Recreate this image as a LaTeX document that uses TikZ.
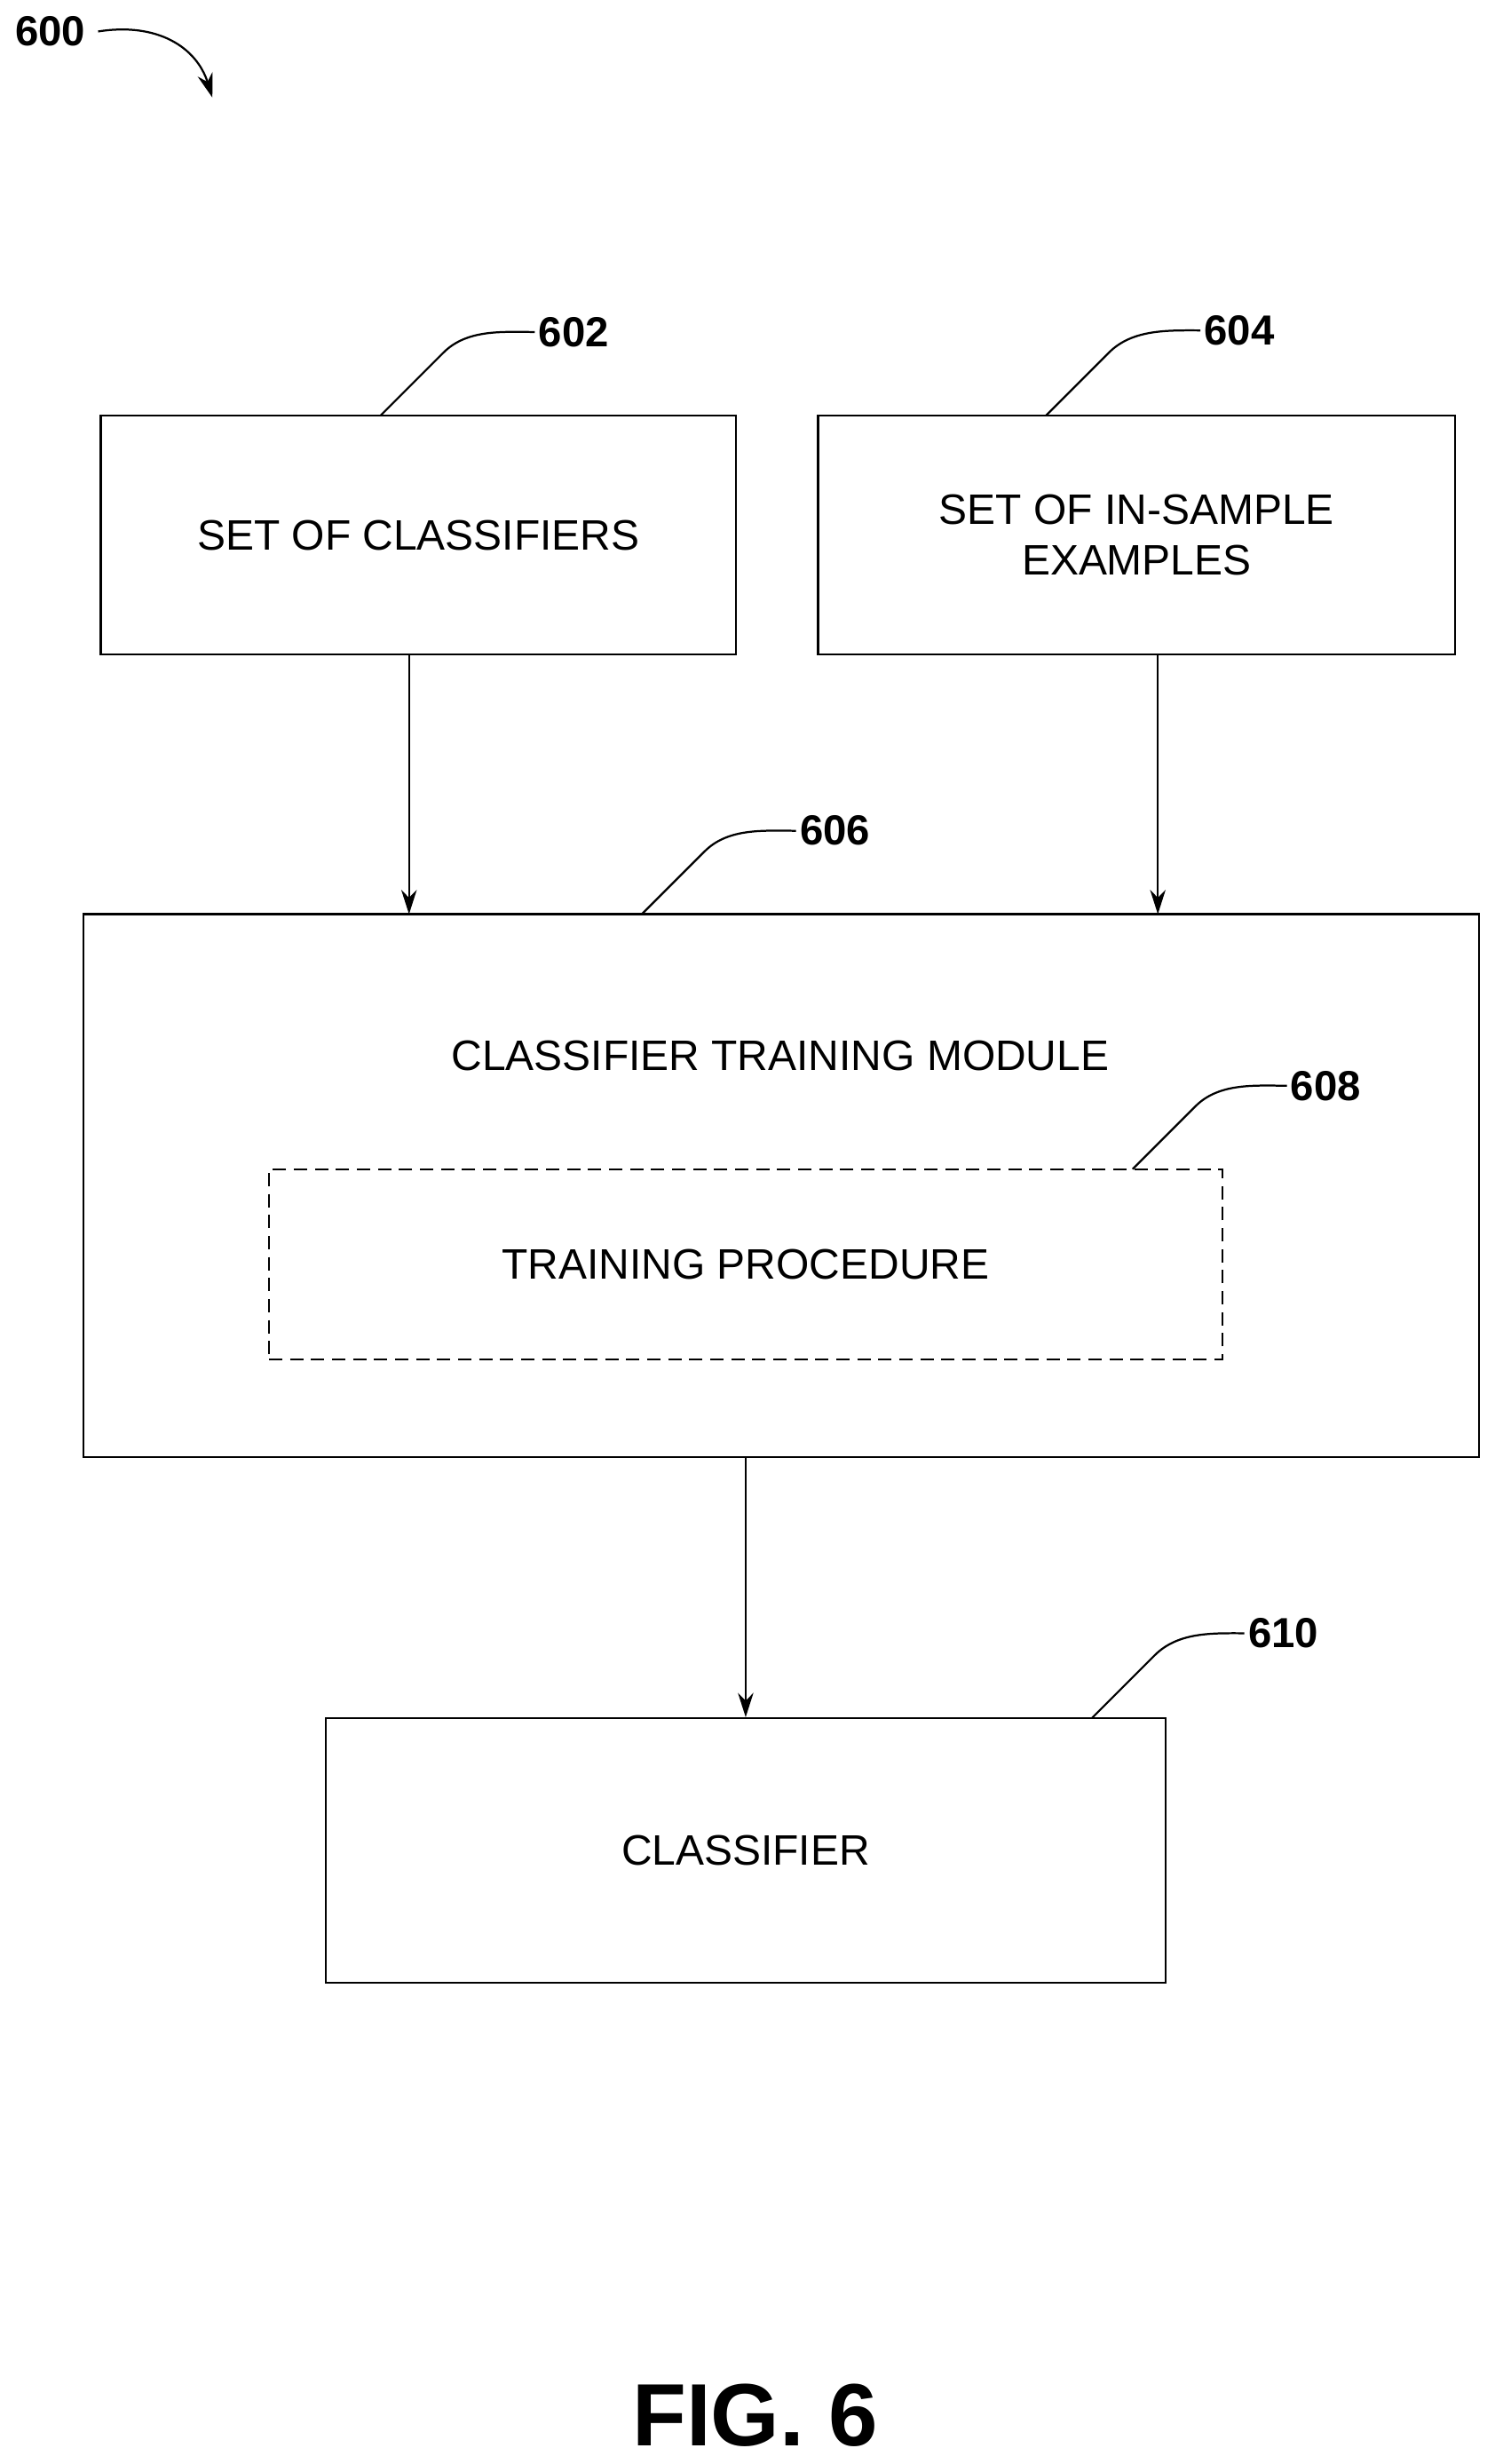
\documentclass[tikz,border=0pt]{standalone}
\usepackage{fontspec}
\setmainfont{Liberation Sans}
\usetikzlibrary{arrows.meta}
\tikzset{box/.style={draw,line width=1.8pt,rectangle,align=center,font=\fontsize{38.5}{46}\selectfont},
  lbl/.style={font=\bfseries\fontsize{38}{44}\selectfont,anchor=west},
  lead/.style={line width=1.8pt},
  arr/.style={line width=1.8pt,-{Stealth[length=22pt,width=14pt]}}}
\newcommand{\leader}[2]{\draw[lead] (#1) -- ++(40,-40) .. controls ++(15,-15) and ++(-20,0) .. (#2.west);}
\begin{document}
\begin{tikzpicture}[x=0.05cm,y=-0.05cm]
    \useasboundingbox (0,0) rectangle (950,1566);
    % boxes
    \node[box,minimum width=404*0.05cm,minimum height=152*0.05cm] (set) at (266,340) {SET OF CLASSIFIERS};
    \node[box,minimum width=405*0.05cm,minimum height=152*0.05cm] (ex) at (722.5,340) {SET OF IN-SAMPLE\\EXAMPLES};
    \draw[line width=1.8pt] (53,581) rectangle (940,926);
    \node[font=\fontsize{38.5}{46}\selectfont] (mod) at (496,671) {CLASSIFIER TRAINING MODULE};
    \node[box,dashed,dash pattern=on 12pt off 7pt,minimum width=606*0.05cm,minimum height=121*0.05cm] (proc) at (474,803.5) {TRAINING PROCEDURE};
    \node[box,minimum width=534*0.05cm,minimum height=168*0.05cm] (cls) at (474,1176) {CLASSIFIER};
    % arrows
    \coordinate (in1) at (260,581);
    \coordinate (in2) at (736,581);
    \coordinate (out) at (474,926);
    \draw[arr] (set.south -| in1) -- (in1);
    \draw[arr] (ex.south -| in2) -- (in2);
    \draw[arr] (out) -- (cls.north);
    % labels
    \node[lbl] (n602) at (340,211) {602};
    \node[lbl] (n604) at (763,210) {604};
    \node[lbl] (n606) at (506,528) {606};
    \node[lbl] (n608) at (818,690) {608};
    \node[lbl] (n610) at (791,1038) {610};
    \node[lbl,anchor=center] (n600) at (32,20) {600};
    \coordinate (t602) at (242,264);
    \coordinate (t604) at (665,264);
    \coordinate (t606) at (408,581);
    \coordinate (t608) at (720,743);
    \coordinate (t610) at (694,1092);
    \leader{t602}{n602}
    \leader{t604}{n604}
    \leader{t606}{n606}
    \leader{t608}{n608}
    \leader{t610}{n610}
    \coordinate (p600) at (135,62);
    \draw[arr] ([xshift=8pt]n600.east) .. controls (100,14) and (125,30) .. (p600);
    \node[font=\bfseries\fontsize{80}{90}\selectfont] (fig) at (480,1535) {FIG. 6};
\end{tikzpicture}
\end{document}
